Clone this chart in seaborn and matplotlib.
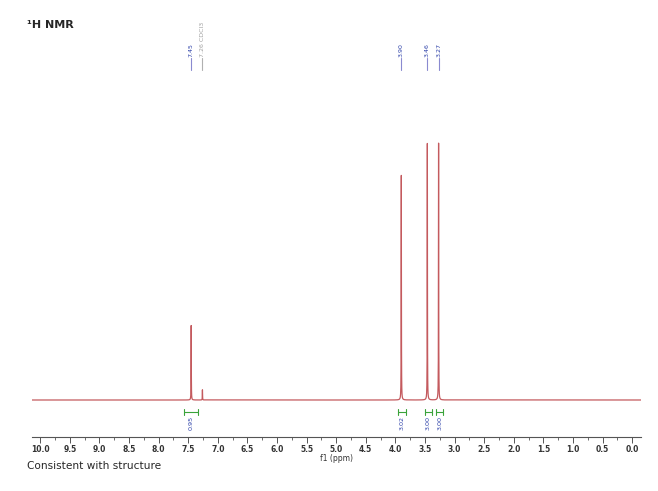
import matplotlib
matplotlib.use('Agg')
import matplotlib.pyplot as plt
import seaborn as sns
import numpy as np
import pandas as pd
from matplotlib.ticker import MultipleLocator

# peak list (ppm, relative height)
peak_ppm = [7.45, 7.26, 3.90, 3.46, 3.27]
peak_height = [0.29, 0.04, 0.88, 1.00, 1.00]
peak_labels = ['7.45', '7.26 CDCl3', '3.90', '3.46', '3.27']
peak_colors = ['#2b3fa8', '#a0a0a0', '#2b3fa8', '#2b3fa8', '#2b3fa8']

# integrals (from, to, value)
integ_from = [7.58, 3.96, 3.50, 3.31]
integ_to = [7.33, 3.82, 3.38, 3.19]
integ_values = ['0.95', '3.02', '3.00', '3.00']

sns.set_theme(style='white')
plt.rcParams['font.family'] = ['Verdana', 'DejaVu Sans']

ppm = np.linspace(10.14, -0.15, 20000)
width = 0.002
intensity = np.zeros_like(ppm)
for c, h in zip(peak_ppm, peak_height):
    intensity += h * width**2 / ((ppm - c)**2 + width**2)
spec = pd.DataFrame({'ppm': ppm, 'intensity': intensity})

fig = plt.figure(figsize=(6.58, 4.91), dpi=100)
ax = fig.add_axes([32/658, 1 - 437/491, 609/658, 437/491])
# baseline at y=400 px, height 1.0 at y=143 px, axis bottom at 437 px
px = 257.0
ax.set_ylim(-37/px, 400/px)
sns.lineplot(data=spec, x='ppm', y='intensity', color='#c45a5e', lw=0.9, ax=ax)
ax.set_xlim(10.14, -0.15)

# peak labels at top
for c, lab, col in zip(peak_ppm, peak_labels, peak_colors):
    ax.plot([c, c], [(400-70)/px, (400-58)/px],
            color='#8a8ad0' if col != '#a0a0a0' else '#b0b0b0', lw=0.8)
    ax.text(c, (400-57)/px, lab, rotation=90, ha='center', va='bottom',
            fontsize=4.5, color=col)

# integrals below baseline
y_int = -12/px
for a, b, v in zip(integ_from, integ_to, integ_values):
    ax.plot([a, b], [y_int, y_int], color='#3aa33a', lw=0.8)
    for e in (a, b):
        ax.plot([e, e], [y_int - 3/px, y_int + 3/px], color='#3aa33a', lw=0.8)
    ax.text((a + b) / 2, y_int - 4/px, v, rotation=90, ha='center', va='top',
            fontsize=4.6, color='#2b3fa8')

for s in ['top', 'left', 'right']:
    ax.spines[s].set_visible(False)
ax.spines['bottom'].set_color('#555555')
ax.spines['bottom'].set_linewidth(0.8)
ax.set_yticks([])
ax.set_ylabel('')
ax.xaxis.set_major_locator(MultipleLocator(0.5))
ax.xaxis.set_minor_locator(MultipleLocator(0.25))
ax.set_xticks(np.arange(0, 10.01, 0.5))
ax.set_xticklabels([f'{t:.1f}' for t in np.arange(0, 10.01, 0.5)])
ax.tick_params(axis='x', which='major', direction='out', length=4, width=0.7,
               color='#555555', labelsize=5.5, labelcolor='#333333', pad=2, bottom=True)
ax.tick_params(axis='x', which='minor', direction='out', length=2, width=0.6,
               color='#555555', bottom=True)
for t in ax.get_xticklabels():
    t.set_fontweight('bold')
ax.set_xlabel('f1 (ppm)', fontsize=5.5, color='#333333', labelpad=0)
ax.set_xlim(10.14, -0.15)

fig.text(27/658, 1 - 25/491, '¹H NMR', fontsize=8, fontweight='bold', va='center', ha='left')
fig.text(27/658, 1 - 466/491, 'Consistent with structure', fontsize=7.6, va='center', ha='left')

fig.savefig('out.png', dpi=100)
